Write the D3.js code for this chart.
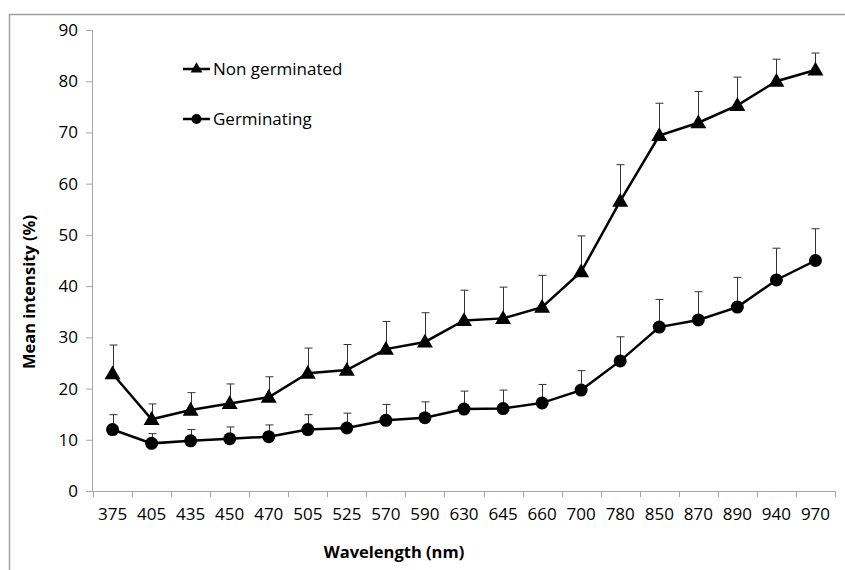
<!DOCTYPE html>
<html><head><meta charset="utf-8">
<script src="https://cdn.jsdelivr.net/npm/d3@7"></script>
<style>body{margin:0;background:#fff}svg{display:block}text{font-family:"Open Sans",sans-serif;fill:#000}</style>
</head><body><svg id="c" width="845" height="570"></svg>
<script>
const categories = ["375","405","435","450","470","505","525","570","590","630","645","660","700","780","850","870","890","940","970"];
const nonGerminated = [22.9,14.0,15.8,17.1,18.3,23.0,23.6,27.7,29.1,33.3,33.7,35.9,42.8,56.6,69.4,71.9,75.3,80.0,82.2];
const nonGerminatedErr = [5.6,3.0,3.4,3.8,4.0,4.9,5.0,5.4,5.7,5.9,6.1,6.2,7.0,7.1,6.3,6.1,5.5,4.3,3.3];
const germinating = [12.0,9.3,9.8,10.2,10.6,12.0,12.3,13.8,14.3,16.0,16.1,17.2,19.7,25.4,32.0,33.4,35.9,41.2,45.0];
const germinatingErr = [2.9,1.9,2.2,2.3,2.3,2.9,2.9,3.1,3.1,3.5,3.6,3.6,3.8,4.7,5.4,5.5,5.8,6.2,6.2];
const yTicks = [0,10,20,30,40,50,60,70,80,90];
const seriesNames = ["Non germinated","Germinating"];

const svg = d3.select("#c");
const m = {l:93, r:835, t:30, b:491};
const x = d3.scaleBand().domain(categories).range([m.l, m.r]);
const y = d3.scaleLinear().domain([0,90]).range([m.b, m.t]);
const axisCol = "#a6a6a6";

// frame
svg.append("path").attr("d","M9.5,570 V14.5 H845").attr("fill","none").attr("stroke","#a0a0a0").attr("stroke-width",1.5);

// y axis
const ya = svg.append("g").attr("transform",`translate(${m.l},0)`)
  .call(d3.axisLeft(y).tickValues(yTicks).tickSize(7).tickPadding(8));
ya.select(".domain").attr("stroke",axisCol).attr("d",`M-0.5,${m.t}V${m.b}`);
ya.selectAll(".tick line").attr("stroke",axisCol);
ya.selectAll("text").style("font-size","17px").style("font-family","Open Sans");

// x axis
const xa = svg.append("g").attr("transform",`translate(0,${m.b})`)
  .call(d3.axisBottom(x).tickSize(0).tickPadding(17));
xa.select(".domain").attr("stroke",axisCol).attr("d",`M${m.l},0.5H${m.r}`);
xa.selectAll("text").style("font-size","17px").style("font-family","Open Sans");
const bounds = categories.map(c=>x(c)).concat([m.r]);
svg.append("g").selectAll("line").data(bounds).join("line")
  .attr("x1",d=>Math.round(d)+0.5).attr("x2",d=>Math.round(d)+0.5)
  .attr("y1",m.b).attr("y2",m.b+6).attr("stroke",axisCol);

// titles
svg.append("text").attr("transform","translate(35,292) rotate(-90)").attr("text-anchor","middle")
  .style("font-size","16.5px").style("font-weight","bold").text("Mean intensity (%)");
svg.append("text").attr("x",394).attr("y",558).attr("text-anchor","middle")
  .style("font-size","16.5px").style("font-weight","bold").text("Wavelength (nm)");

const cx = c => x(c) + x.bandwidth()/2;
const tri = d3.symbol().type(d3.symbolTriangle).size(110);
function drawSeries(vals, errs, shape){
  const g = svg.append("g");
  g.selectAll(".eb").data(categories).join("path")
    .attr("d",(c,i)=>{const X=Math.round(cx(c))+0.5, t=y(vals[i]+errs[i]);
      return `M${X},${y(vals[i])}V${t}M${X-4},${t}H${X+4}`;})
    .attr("stroke","#333").attr("stroke-width",1).attr("fill","none");
  g.append("path").datum(vals)
    .attr("d", d3.line().x((v,i)=>cx(categories[i])).y(v=>y(v)))
    .attr("fill","none").attr("stroke","#000").attr("stroke-width",2.5);
  if(shape==="tri"){
    g.selectAll(".m").data(vals).join("path")
      .attr("transform",(v,i)=>`translate(${cx(categories[i])},${y(v)+1})`).attr("d",tri).attr("fill","#000");
  } else {
    g.selectAll(".m").data(vals).join("circle")
      .attr("cx",(v,i)=>cx(categories[i])).attr("cy",v=>y(v)).attr("r",6.5).attr("fill","#000");
  }
}
drawSeries(nonGerminated, nonGerminatedErr, "tri");
drawSeries(germinating, germinatingErr, "circ");

// legend
const leg = [{name:seriesNames[0],shape:"tri",y:69},{name:seriesNames[1],shape:"circ",y:119}];
leg.forEach(l=>{
  svg.append("line").attr("x1",183).attr("x2",210).attr("y1",l.y).attr("y2",l.y).attr("stroke","#000").attr("stroke-width",2.5);
  if(l.shape==="tri") svg.append("path").attr("transform",`translate(196.5,${l.y})`).attr("d",d3.symbol().type(d3.symbolTriangle).size(60)).attr("fill","#000");
  else svg.append("circle").attr("cx",196.5).attr("cy",l.y).attr("r",5).attr("fill","#000");
  svg.append("text").attr("x",213).attr("y",l.y).attr("dy","0.35em").style("font-size","17px").text(l.name);
});
</script></body></html>
